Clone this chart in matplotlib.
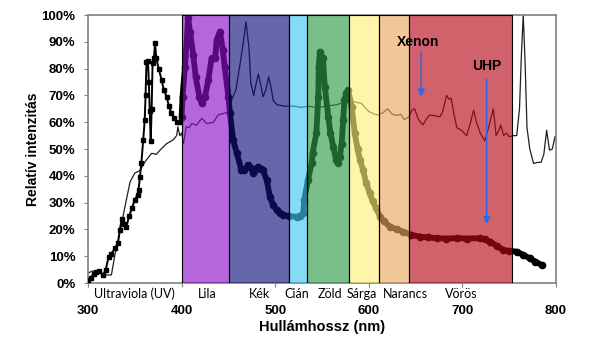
import matplotlib.pyplot as plt
from matplotlib.ticker import FuncFormatter

# spectral bands (nm) and their names / colours
band_edges = [400, 451, 515, 534, 579, 611, 643, 753]
band_names = ["Lila", "Kék", "Cián", "Zöld", "Sárga", "Narancs", "Vörös"]
band_colors = ["#8a10c8", "#10107a", "#40c8ee", "#2f9a4a", "#fff07a", "#eaa860", "#b80818"]
band_label_x = [427, 483, 523, 558, 593, 639, 699]

# xenon lamp spectrum (wavelength nm, relative intensity %)
xenon_nm = [300, 305, 311, 318, 325, 329, 334, 339.5, 345, 350, 355.5, 361, 368, 373, 377,
            384, 391, 394.7, 396, 398, 400, 402, 405, 408, 411, 416, 421.5, 427, 434, 439,
            446, 451, 453.5, 458, 462, 466, 468.8, 470.5, 472, 474, 477, 480, 482, 484.5,
            487, 490, 493, 495.5, 498, 502, 510, 520, 528, 535, 545, 555, 565, 575, 580,
            586, 592, 600, 606, 610, 615, 620, 625, 630, 634, 638, 643, 646, 649, 653, 658,
            661, 665, 670, 676, 679, 683, 686, 688, 691, 694, 699, 704.5, 708, 712, 715,
            719, 724, 728, 733, 736, 739, 741, 744, 747, 750, 755, 758, 761, 763, 765, 767,
            769, 772, 776, 780, 784, 787, 790, 793, 796, 799]
xenon_val = [3.7, 4.5, 4.2, 3, 3, 11, 18.6, 28.5, 37.8, 41, 42, 45.3, 48.4, 48, 49.6,
             52, 53.4, 55, 58.3, 55, 56, 52, 58.3, 58, 59.5, 58.9, 61.4, 59.5, 60, 62.7,
             63.4, 64, 68.3, 72, 80.7, 90, 97.5, 92, 88, 74.5, 70, 75, 78, 74,
             69.5, 72, 77, 73, 68, 66.5, 66, 66, 65.5, 66, 65.5, 66, 66.5, 67.5, 68,
             67.5, 67, 64, 63, 62.7, 63.5, 65, 63, 62.5, 63, 61, 62, 64.5, 65, 61, 59,
             61, 62.7, 62.5, 62, 64, 70, 68.5, 69, 63, 58, 57, 55, 59, 64.5, 60,
             56, 53, 58, 65, 55, 57, 59, 55, 56, 54.6, 55, 55, 65, 85, 100, 82,
             58, 50, 44.6, 45, 45, 48, 57, 49.6, 50, 54.6]

# UHP lamp spectrum, ultraviolet part
uhp_uv_nm = [300, 303, 306, 309, 312, 316, 319, 322, 325, 329, 332, 334, 336, 338, 341,
             344, 347, 350, 353, 354, 355.5, 357, 359, 360.6, 361.5, 362.5, 364, 365, 366,
             367, 368, 369, 370.5, 371.6, 373, 375.5, 378.7, 381, 384, 386.5, 389, 392,
             394.7, 398, 400]
uhp_uv_val = [1, 2, 3.5, 4.2, 4.5, 3, 5, 9.8, 11, 13, 15, 19.8, 24, 22, 21,
              25, 28, 31, 33, 34.7, 39.7, 44.7, 53.4, 60.8, 70, 82.6, 83, 75, 64,
              53, 65, 82, 84, 89.4, 84, 80, 75.7, 72, 69.5, 66, 63.4, 61.5,
              60.2, 60, 62]

# UHP lamp spectrum, visible part
uhp_vis_nm = [400, 401, 403.6, 407, 409, 412.5, 415, 419, 421.5, 425, 428.5, 432, 436, 437.5,
              441, 444, 446, 450, 451.7, 455, 459, 464, 467, 471, 474, 476.6, 479, 482,
              485, 487, 491, 494.4, 498, 501.6, 505, 508.6, 515, 523, 527, 530, 531, 535,
              539, 540, 544, 546, 546.5, 547.8, 551, 553, 556.7, 559, 562, 565, 567.4, 569,
              571, 572.6, 574, 576, 578, 581.7, 585, 588, 590.6, 594, 597, 601, 604, 608,
              612, 616, 622.6, 630, 637, 645, 654.7, 663, 672.5, 683, 694, 705, 718.8, 724,
              729.5, 737, 743.7, 750, 758, 765, 772, 778, 784.7]
uhp_vis_val = [62, 69.5, 80.7, 98.8, 93.8, 85, 77, 69.5, 67, 69.5, 75.7, 83.8, 84, 90.7,
               93.8, 87, 80.7, 69.5, 63.4, 53.4, 48.5, 42, 42, 44, 43, 41, 42.5, 43.4,
               42.5, 42, 38.4, 32, 29, 27.2, 26, 25.4, 25, 24.7, 25, 26, 31, 38.4,
               44.7, 48.5, 56, 69.5, 80.7, 86.3, 83.8, 73.2, 62, 56, 50.9, 46, 44.7, 47,
               52, 60.8, 68.3, 71, 72, 65.8, 55.9, 50, 46, 42, 37.5, 33.5, 30.5, 27.9,
               24.7, 23, 21, 20, 19.1, 18, 17.3, 17, 16.7, 16.6, 16.7, 16.6, 16.7, 16.3,
               15.4, 13.8, 12.3, 12, 11.7, 10.5, 9.2, 8, 6.7]

x_ticks = [300, 400, 500, 600, 700, 800]
y_ticks = [0, 10, 20, 30, 40, 50, 60, 70, 80, 90, 100]

plt.rcParams['font.family'] = ['Liberation Sans', 'DejaVu Sans']

fig = plt.figure(figsize=(6.06, 3.42), dpi=100)
ax = fig.add_axes([0.1452, 0.1725, 0.7723, 0.7836])

ax.plot(xenon_nm, xenon_val, color="#202020", lw=0.9, zorder=2)
ax.plot(uhp_uv_nm, uhp_uv_val, color="black", lw=1.4, marker="s", ms=3.5, zorder=3)
ax.plot(uhp_vis_nm, uhp_vis_val, color="black", lw=4.2, marker="o", ms=4.5, zorder=3,
        solid_capstyle="round")

# translucent colour bands over the curves
for i, name in enumerate(band_names):
    ax.axvspan(band_edges[i], band_edges[i + 1], color=band_colors[i], alpha=0.64,
               lw=0, zorder=4)
    ax.axvspan(band_edges[i], band_edges[i + 1], fill=False, ec="black", lw=0.8, zorder=5)
    ax.text(band_label_x[i], -0.04, name, transform=ax.get_xaxis_transform(),
            ha="center", va="center", fontsize=9, family=["Lato", "DejaVu Sans"])
ax.text(350, -0.04, "Ultraviola (UV)", transform=ax.get_xaxis_transform(),
        ha="center", va="center", fontsize=9, family=["Lato", "DejaVu Sans"])

# arrows pointing at the two lamps
ax.annotate("", xy=(656, 68.5), xytext=(656, 87),
            arrowprops=dict(arrowstyle="-|>", color="#2a6ae8", lw=1.2, mutation_scale=10),
            zorder=6)
ax.text(653, 90, "Xenon", ha="center", va="center", fontsize=10, fontweight="bold", zorder=6)
ax.annotate("", xy=(726, 21), xytext=(726, 77),
            arrowprops=dict(arrowstyle="-|>", color="#2a6ae8", lw=1.2, mutation_scale=10),
            zorder=6)
ax.text(726, 81, "UHP", ha="center", va="center", fontsize=10, fontweight="bold", zorder=6)

ax.set_xlim(300, 800)
ax.set_ylim(0, 100)
ax.set_xticks(x_ticks)
ax.set_yticks(y_ticks)
ax.yaxis.set_major_formatter(FuncFormatter(lambda v, _: f"{v:.0f}%"))
ax.tick_params(axis="x", length=3, color="#808080", pad=13, labelsize=9.5)
ax.tick_params(axis="y", length=3, color="#808080", pad=6, labelsize=9.5)
for lbl in ax.get_xticklabels() + ax.get_yticklabels():
    lbl.set_fontweight("bold")
for sp in ax.spines.values():
    sp.set_color("#808080")
    sp.set_linewidth(1.2)

ax.set_xlabel("Hullámhossz (nm)", fontsize=10.5, fontweight="bold", labelpad=2)
ax.set_ylabel("Relatív intenzitás", fontsize=10, fontweight="bold", labelpad=1)

plt.savefig("out.png", dpi=100)
